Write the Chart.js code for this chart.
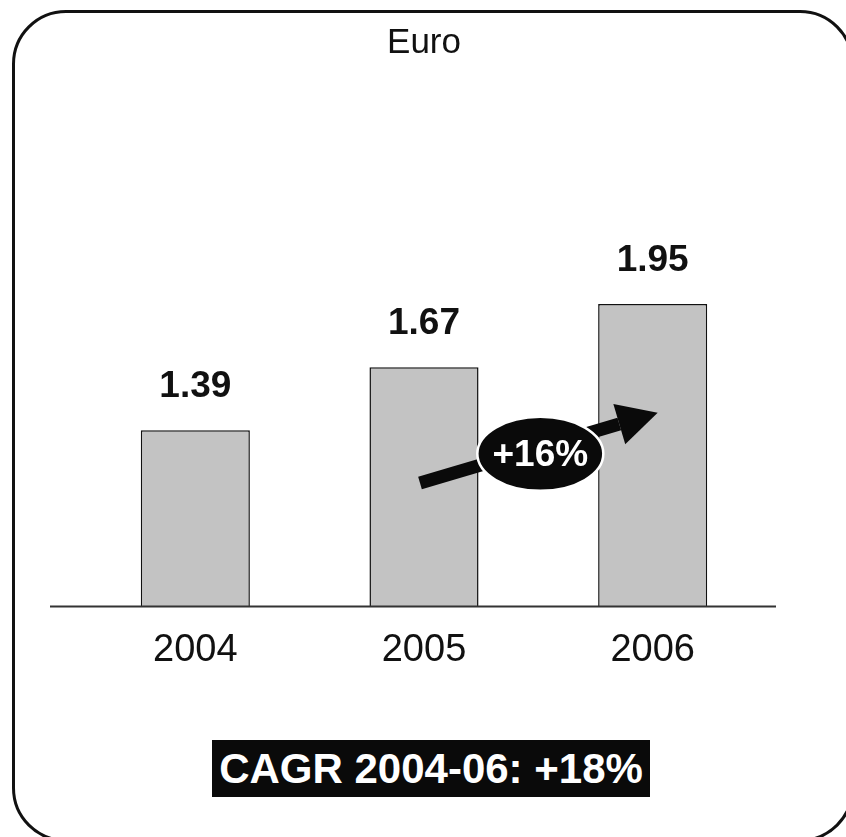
<!DOCTYPE html>
<html>
<head>
<meta charset="utf-8">
<script src="https://cdn.jsdelivr.net/npm/chart.js@4/dist/chart.umd.min.js"></script>
<style>
    html, body { margin: 0; padding: 0; background: #fff; overflow: hidden; }
    #wrap { position: relative; width: 846px; height: 837px; }
    #frame {
        position: absolute; left: 12px; top: 10px; width: 842px; height: 832px;
        border: 3px solid #111; border-radius: 54px; box-sizing: border-box;
    }
    #cagr {
        position: absolute; left: 212px; top: 740px; width: 438px; height: 57px;
        background: #0a0a0a; color: #fff; text-align: center;
        font: bold 42px "Liberation Sans", Arial, sans-serif; line-height: 58px;
    }
    canvas { position: absolute; left: 0; top: 0; }
</style>
</head>
<body>
<div id="wrap">
    <div id="frame"></div>
    <canvas id="grafica" width="846" height="837"></canvas>
    <div id="cagr">CAGR 2004-06: +18%</div>
</div>
<script>
"use strict";
const years = ["2004", "2005", "2006"];
const revenue = [1.39, 1.67, 1.95];
const unitLabel = "Euro";
const growthLabel = "+16%";

document.addEventListener("DOMContentLoaded", () => {
    const canvas = document.querySelector("#grafica");
    const font = "'Liberation Sans', Arial, sans-serif";

    // linea base, etiquetas de valor y flecha de crecimiento
    const extras = {
        id: "extras",
        afterDatasetsDraw(chart) {
            const ctx = chart.ctx;
            const x = chart.scales.x;
            const y = chart.scales.y;
            const bottom = chart.chartArea.bottom;

            ctx.save();
            ctx.strokeStyle = "#333";
            ctx.lineWidth = 2;
            ctx.beginPath();
            ctx.moveTo(50, bottom);
            ctx.lineTo(776, bottom);
            ctx.stroke();

            ctx.fillStyle = "#111";
            ctx.font = "bold 37px " + font;
            ctx.textAlign = "center";
            ctx.textBaseline = "alphabetic";
            chart.getDatasetMeta(0).data.forEach((bar, i) => {
                ctx.fillText(revenue[i].toFixed(2), bar.x, bar.y - 33);
            });

            // flecha
            const x0 = x.getPixelForValue(1) - 4, y0 = y.getPixelForValue(1.157);
            const x1 = x.getPixelForValue(2) + 5, y1 = y.getPixelForValue(1.468);
            const ang = Math.atan2(y1 - y0, x1 - x0);
            const headLen = 40, headW = 21;
            const bx = x1 - headLen * Math.cos(ang), by = y1 - headLen * Math.sin(ang);
            ctx.strokeStyle = "#0a0a0a";
            ctx.lineWidth = 13;
            ctx.beginPath();
            ctx.moveTo(x0, y0);
            ctx.lineTo(bx, by);
            ctx.stroke();
            ctx.fillStyle = "#0a0a0a";
            ctx.beginPath();
            ctx.moveTo(x1, y1);
            ctx.lineTo(bx + headW * Math.sin(ang), by - headW * Math.cos(ang));
            ctx.lineTo(bx - headW * Math.sin(ang), by + headW * Math.cos(ang));
            ctx.closePath();
            ctx.fill();

            // elipse
            const cx = x.getPixelForValue(1.5) + 2, cy = y.getPixelForValue(1.286);
            ctx.beginPath();
            ctx.ellipse(cx, cy, 63, 37, 0, 0, Math.PI * 2);
            ctx.fill();
            ctx.strokeStyle = "#fff";
            ctx.lineWidth = 2.5;
            ctx.stroke();
            ctx.fillStyle = "#fff";
            ctx.font = "bold 37px " + font;
            ctx.textBaseline = "middle";
            ctx.fillText(growthLabel, cx, cy + 2);
            ctx.restore();
        }
    };

    new Chart(canvas, {
        type: "bar",
        data: {
            labels: years,
            datasets: [{
                data: revenue,
                backgroundColor: "#c3c3c3",
                borderColor: "#111",
                borderWidth: 1.5,
                borderSkipped: "bottom",
                categoryPercentage: 1,
                barPercentage: 0.477,
            }],
        },
        options: {
            responsive: false,
            animation: false,
            layout: { padding: { left: 81, right: 79, top: 0, bottom: 143 } },
            plugins: {
                legend: { display: false },
                tooltip: { enabled: false },
                title: {
                    display: true,
                    text: unitLabel,
                    color: "#111",
                    font: { family: font, size: 35, weight: "normal" },
                    padding: { top: 22, bottom: 161 },
                },
            },
            scales: {
                x: {
                    grid: { display: false, drawTicks: false },
                    border: { display: false },
                    ticks: { color: "#111", font: { family: font, size: 38 }, padding: 21 },
                },
                y: { display: false, min: 0.61, max: 2.3 },
            },
        },
        plugins: [extras],
    });
});
</script>
</body>
</html>
